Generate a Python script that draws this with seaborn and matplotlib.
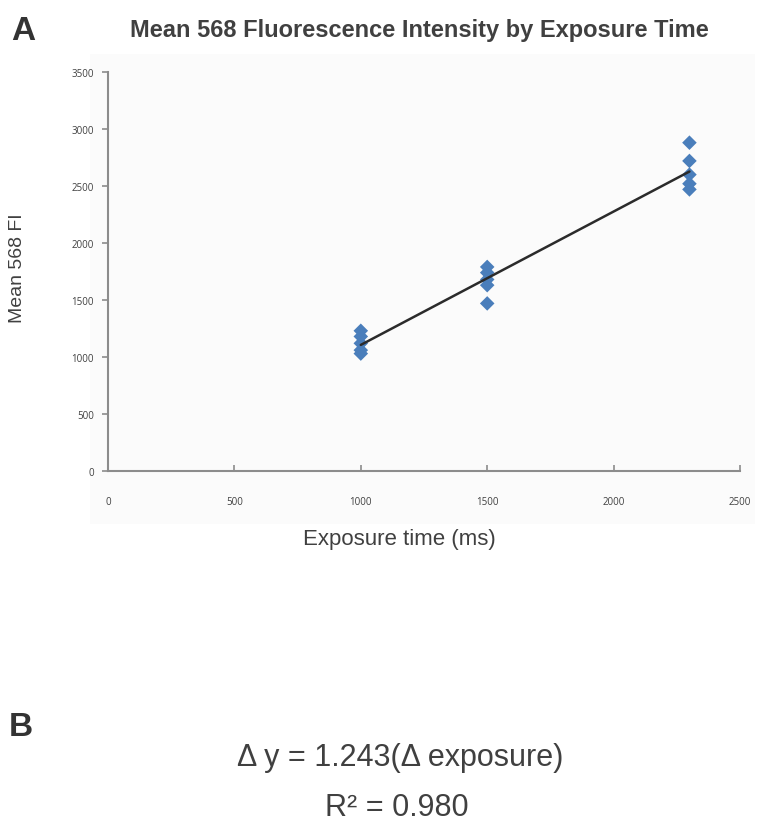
import numpy as np
import pandas as pd
import matplotlib
matplotlib.use("Agg")
import matplotlib.pyplot as plt
import seaborn as sns

# exposure times (ms) and mean 568 fluorescence
exposure = [1000, 1000, 1000, 1000, 1000,
            1500, 1500, 1500, 1500, 1500,
            2300, 2300, 2300, 2300, 2300]
mean_fi = [1230, 1180, 1120, 1060, 1030,
           1790, 1740, 1680, 1630, 1470,
           2880, 2720, 2600, 2520, 2470]
x_ticks = [0, 500, 1000, 1500, 2000, 2500]
y_ticks = [0, 500, 1000, 1500, 2000, 2500, 3000, 3500]

df = pd.DataFrame({"exposure": exposure, "fi": mean_fi})

sns.set_theme(style="white")
plt.rcParams["font.family"] = ["Liberation Sans", "DejaVu Sans"]

txt = "#404040"
spine = "#8c8c8c"

fig = plt.figure(figsize=(7.64, 8.28), dpi=100)
# faint chart-area background like the Excel original
bg = fig.add_axes([90 / 764, 1 - 525 / 828, 665 / 764, 470 / 828], zorder=0)
bg.set_facecolor("#fbfbfb")
bg.set_xticks([])
bg.set_yticks([])
for s in bg.spines.values():
    s.set_visible(False)

ax = fig.add_axes([108 / 764, 1 - 472 / 828, 632 / 764, 399 / 828], zorder=1)
ax.set_facecolor("none")

sns.regplot(data=df, x="exposure", y="fi", ax=ax, ci=None, truncate=True,
            marker="D", scatter_kws={"s": 55, "color": "#4a7ebb", "edgecolor": "none",
                                     "alpha": 1, "zorder": 2},
            line_kws={"color": "#2b2b2b", "lw": 1.8, "zorder": 3})

ax.set_xlim(0, 2500)
ax.set_ylim(0, 3500)
ax.set_xticks(x_ticks)
ax.set_yticks(y_ticks)
ax.set_xticklabels([str(t) for t in x_ticks], family="Open Sans", fontsize=7, color=txt)
ax.set_yticklabels([str(t) for t in y_ticks], family="Open Sans", fontsize=7, color=txt)
ax.tick_params(axis="y", direction="out", length=4, width=1.2, color=spine, pad=6, left=True)
ax.tick_params(axis="x", direction="in", length=4, width=1.2, color=spine, pad=18, bottom=True)
for s in ["top", "right"]:
    ax.spines[s].set_visible(False)
for s in ["left", "bottom"]:
    ax.spines[s].set_color(spine)
    ax.spines[s].set_linewidth(1.5)
ax.set_xlabel("")
ax.set_ylabel("")

fig.text(419 / 764, 1 - 31 / 828, "Mean 568 Fluorescence Intensity by Exposure Time",
         ha="center", va="center", fontsize=17, fontweight="bold", color=txt)
fig.text(11 / 764, 1 - 31 / 828, "A", ha="left", va="center", fontsize=24,
         fontweight="bold", color="#333333")
fig.text(18 / 764, 1 - 268 / 828, "Mean 568 FI", rotation=90, ha="center", va="center",
         fontsize=14, color=txt)
fig.text(399 / 764, 1 - 540 / 828, "Exposure time (ms)", ha="center", va="center",
         fontsize=16, color=txt)

fig.text(9 / 764, 1 - 728 / 828, "B", ha="left", va="center", fontsize=24,
         fontweight="bold", color="#333333")
fig.text(400 / 764, 1 - 758 / 828, "\u0394 y = 1.243(\u0394 exposure)", ha="center",
         va="center", fontsize=22, color=txt)
fig.text(397 / 764, 1 - 808 / 828, "R\u00b2 = 0.980", ha="center", va="center",
         fontsize=22, color=txt)

fig.savefig("out.png", dpi=100, facecolor="white")
